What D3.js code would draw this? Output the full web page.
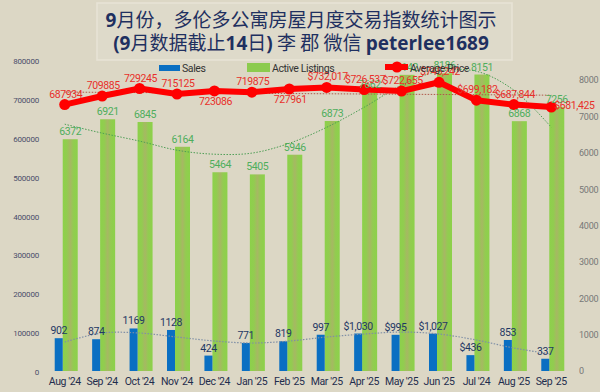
<!DOCTYPE html>
<html><head><meta charset="utf-8">
<script src="https://cdn.jsdelivr.net/npm/d3@7"></script>
<style>
html,body{margin:0;padding:0;background:#DCD7C5;}
svg{display:block;}
text{font-family:Roboto,Lato,sans-serif;letter-spacing:-0.4px;}
</style></head>
<body>
<svg id="c" width="600" height="392"></svg>
<script>
const categories = ["Aug '24","Sep '24","Oct '24","Nov '24","Dec '24","Jan '25","Feb '25","Mar '25","Apr '25","May '25","Jun '25","Jul '24","Aug '25","Sep '25"];
const sales = [902, 874, 1169, 1128, 424, 771, 819, 997, 1030, 995, 1027, 436, 853, 337];
const salesLabels = ["902","874","1169","1128","424","771","819","997","$1,030","$995","$1,027","$436","853","337"];
const listings = [6372, 6921, 6845, 6164, 5464, 5405, 5946, 6873, 7662, 8142, 8186, 8151, 6868, 7256];
const avgPrice = [687934, 709885, 729245, 715125, 723086, 719875, 727961, 732017, 726537, 722655, 745242, 699182, 687844, 681425];
const priceLabels = ["687934","709885","729245","715125","723086","719875","727961","$732,017","$726,537","$722,655","$745,242","$699,182","$687,844","$681,425"];
const listingsTrend = [6785, 6540, 6320, 6070, 5960, 5990, 6260, 6700, 7250, 7860, 8240, 8240, 7720, 6700];
const salesTrend = [797, 1044, 1044, 934, 824, 769, 824, 934, 1016, 1071, 1016, 852, 632, 467];
const priceTrend = [720000, 719400, 718800, 718200, 717500, 716900, 716300, 715700, 715100, 714500, 713900, 713300, 712700, 712000];
const leftTicks = [0,100000,200000,300000,400000,500000,600000,700000,800000];
const rightTicks = [0,1000,2000,3000,4000,5000,6000,7000,8000];
const titleLine1 = [["9",true],["月份，多伦多公寓房屋月度交易指数统计图示",false]];
const titleLine2 = [["(9",true],["月数据截",false],["止",false],["14",true],["日",false],[")",true],[" 李 郡  微信 ",false],["peterlee1689",true]];
const legendItems = ["Sales","Active Listings","Average Price"];

const svg = d3.select("#c");
const defs = svg.append("defs");
const g1 = defs.append("linearGradient").attr("id","gbar").attr("x1","0").attr("x2","1").attr("y1","0").attr("y2","0");
[["0%","#8CD14A"],["28%","#92CC50"],["50%","#A6B863"],["72%","#92CC50"],["100%","#8CD14A"]].forEach(s=>g1.append("stop").attr("offset",s[0]).attr("stop-color",s[1]));

// title
svg.append("rect").attr("x",97).attr("y",3).attr("width",415).attr("height",57)
  .attr("fill","#DEDACA").attr("stroke","#E8E4D6").attr("stroke-width",1.5);
function titleLine(parts,y){
  const t = svg.append("text").attr("x",301).attr("y",y).attr("text-anchor","middle")
    .attr("font-size",19).attr("fill","#1F3060").style("letter-spacing","0px");
  parts.forEach(p=>t.append("tspan").text(p[0])
    .attr("font-family", p[1] ? "'Open Sans','Noto Sans CJK SC',sans-serif" : "'Noto Sans CJK SC',sans-serif")
    .attr("font-weight", p[1] ? 700 : 400));
}
titleLine(titleLine1,27);
titleLine(titleLine2,50);

const x = d3.scaleBand().domain(categories).range([46,570]).padding(0);
const yL = d3.scaleLinear().domain([0,800000]).range([372,61]);
const yR = d3.scaleLinear().domain([0,8000]).range([371,80]);
const cx = d => x(d) + x.bandwidth()/2;

// axes (labels only)
const axL = svg.append("g").attr("transform","translate(40,0)")
  .call(d3.axisLeft(yL).tickValues(leftTicks).tickFormat(d3.format("d")).tickSize(0).tickPadding(1));
axL.select(".domain").remove();
axL.selectAll("text").attr("font-size",8).attr("fill","#4A4E6A").style("letter-spacing","-0.2px");
const axR = svg.append("g").attr("transform","translate(577,0)")
  .call(d3.axisRight(yR).tickValues(rightTicks).tickFormat(d3.format("d")).tickSize(0).tickPadding(2));
axR.select(".domain").remove();
axR.selectAll("text").attr("font-size",9).attr("fill","#777777").style("letter-spacing","-0.2px");
const axB = svg.append("g").attr("transform","translate(0,374)")
  .call(d3.axisBottom(x).tickSize(0).tickPadding(4));
axB.select(".domain").remove();
axB.selectAll("text").attr("font-size",10.5).attr("fill","#1F2D4D");

// bars
svg.append("g").selectAll("rect").data(categories).join("rect")
  .attr("x",d=>cx(d)-2).attr("width",15)
  .attr("y",(d,i)=>yR(listings[i])).attr("height",(d,i)=>yR(0)-yR(listings[i]))
  .attr("fill","url(#gbar)");
svg.append("g").selectAll("rect").data(categories).join("rect")
  .attr("x",d=>cx(d)-10).attr("width",8)
  .attr("y",(d,i)=>yR(sales[i])).attr("height",(d,i)=>yR(0)-yR(sales[i]))
  .attr("fill","#0A6FC2");

// trendlines
const tl = (arr, sc) => d3.line().x((v,i)=>cx(categories[i])).y(v=>sc(v)).curve(d3.curveCatmullRom)(arr);
svg.append("path").attr("d",tl(listingsTrend,yR)).attr("fill","none").attr("stroke","#4E9E55").attr("stroke-width",1).attr("stroke-dasharray","1.5,1.5");
svg.append("path").attr("d",tl(salesTrend,yR)).attr("fill","none").attr("stroke","#7F8FA6").attr("stroke-width",1.2).attr("stroke-dasharray","1.5,1.5");
svg.append("path").attr("d",tl(priceTrend,yL)).attr("fill","none").attr("stroke","#B0584A").attr("stroke-width",1).attr("stroke-dasharray","1.5,1.5");

// price line
svg.append("path").attr("d",d3.line().x((v,i)=>cx(categories[i])).y(v=>yL(v))(avgPrice))
  .attr("fill","none").attr("stroke","#FF0000").attr("stroke-width",6).attr("stroke-linejoin","round");
svg.append("g").selectAll("circle").data(avgPrice).join("circle")
  .attr("cx",(v,i)=>cx(categories[i])).attr("cy",v=>yL(v)).attr("r",5.5).attr("fill","#FF0000");

// labels
svg.append("g").selectAll("text").data(listings).join("text")
  .attr("x",(v,i)=>cx(categories[i])+5.5).attr("y",v=>yR(v)-4)
  .attr("text-anchor","middle").attr("font-size",10.5).attr("fill","#4FAE5C").text(v=>v);
svg.append("g").selectAll("text").data(sales).join("text")
  .attr("x",(v,i)=>cx(categories[i])-6).attr("y",v=>yR(v)-4)
  .attr("text-anchor","middle").attr("font-size",10.5).attr("fill","#1F3864").text((v,i)=>salesLabels[i]);
svg.append("g").selectAll("text").data(avgPrice).join("text")
  .attr("x",(v,i)=> i===categories.length-1 ? cx(categories[i])+3 : cx(categories[i])+1)
  .attr("y",(v,i)=> (i===4||i===6) ? yL(v)+14 : (i===categories.length-1 ? yL(v)+2 : yL(v)-7))
  .attr("text-anchor",(v,i)=> i===categories.length-1 ? "start" : "middle")
  .attr("font-size",10.5).attr("fill","#E8302A").text((v,i)=>priceLabels[i]);

// legend
const lg = svg.append("g");
lg.append("rect").attr("x",159).attr("y",65).attr("width",21).attr("height",6).attr("fill","#0A6FC2");
lg.append("text").attr("x",182).attr("y",72).attr("font-size",10.5).attr("fill","#333").text(legendItems[0]);
lg.append("rect").attr("x",247).attr("y",63).attr("width",23).attr("height",9).attr("fill","#8CCB4E");
lg.append("text").attr("x",272).attr("y",72).attr("font-size",10.5).attr("fill","#333").text(legendItems[1]);
lg.append("line").attr("x1",385).attr("x2",408).attr("y1",67).attr("y2",67).attr("stroke","#FF0000").attr("stroke-width",6);
lg.append("circle").attr("cx",397).attr("cy",67).attr("r",5.5).attr("fill","#FF0000");
lg.append("text").attr("x",410).attr("y",72).attr("font-size",10.5).attr("fill","#333").text(legendItems[2]);
</script>
</body></html>
